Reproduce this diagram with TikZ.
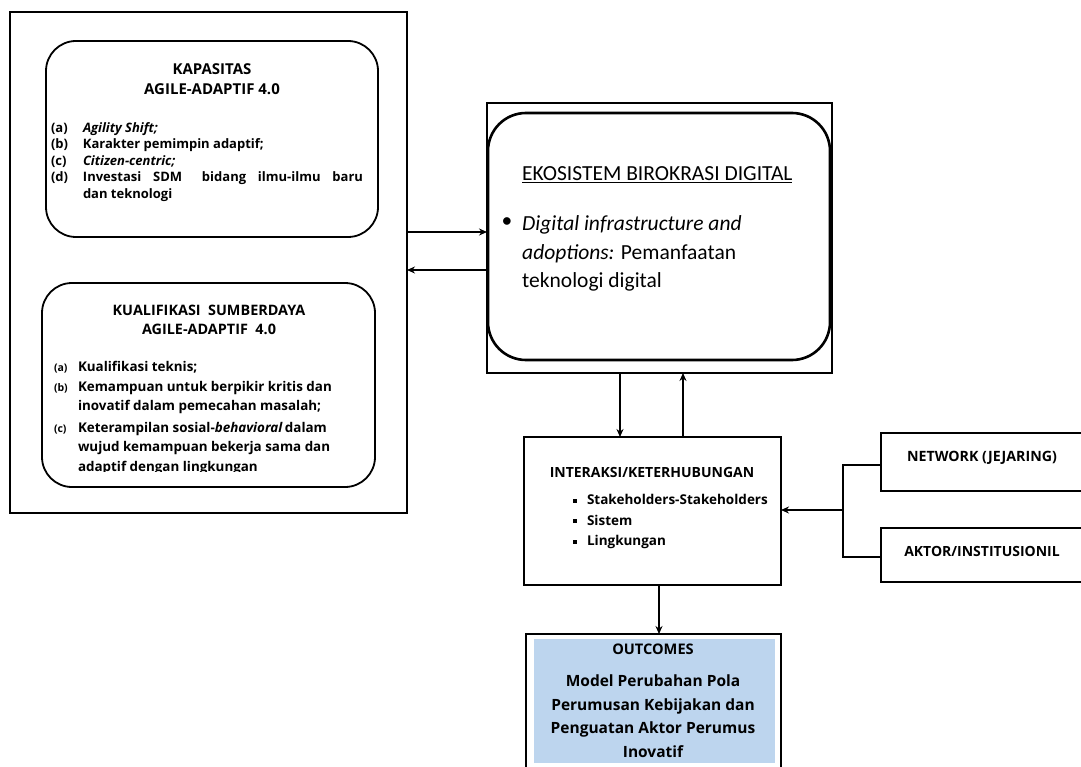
\documentclass[tikz,border=0pt]{standalone}
\usepackage{fontspec}
\setmainfont{Open Sans}
\newfontfamily\calib{Carlito}
\usetikzlibrary{arrows.meta}
\definecolor{outblue}{HTML}{BDD5EE}
\newcommand{\fsz}[2]{\fontsize{#1}{#2}\selectfont}
\newcommand{\sqb}{\raisebox{2.4pt}{\rule{4pt}{4pt}}}
\begin{document}
\begin{tikzpicture}[x=1pt,y=-1pt,
  box/.style={draw,line width=1.8pt,inner sep=0pt,outer sep=0pt},
  rbox/.style={box,rounded corners=30pt},
  arr/.style={line width=2pt,-{Stealth[length=8pt,width=7pt]}},
  conn/.style={line width=2.4pt},
  txt/.style={inner sep=0pt,outer sep=0pt,font=\bfseries},
]
\useasboundingbox (0,0) rectangle (1081,767);
% shapes
\node[box,minimum width=397,minimum height=501] (left) at (208.5,262.5) {};
\node[rbox,minimum width=332,minimum height=196] (kap) at (212,139) {};
\node[rbox,minimum width=333,minimum height=204] (kual) at (208.5,385) {};
\node[box,minimum width=345,minimum height=270] (ekoO) at (659.5,238) {};
\node[box,line width=2.6pt,rounded corners=38pt,minimum width=342,minimum height=247] (ekoI) at (659,236.5) {};
\node[box,minimum width=257,minimum height=148] (inter) at (652.5,511) {};
\node[box,minimum width=209,minimum height=58] (net) at (985.5,462) {};
\node[box,minimum width=209,minimum height=54] (akt) at (985.5,555) {};
\node[box,minimum width=255,minimum height=146] (outc) at (653.5,707) {};
\fill[outblue] (534,639) rectangle (775,763);
% texts
\node[txt,align=center,font=\bfseries\fsz{15}{20}] (kapT) at (212,79) {KAPASITAS\\AGILE-ADAPTIF 4.0};
\node[txt,anchor=north west,font=\bfseries\fsz{13}{16.6}] (kapL) at (51,120.4) {%
\begin{tabular}{@{}p{22pt}@{\hspace{10pt}}l@{}}
(a) & \textit{Agility Shift;}\\
(b) & Karakter pemimpin adaptif;\\
(c) & \textit{Citizen-centric;}\\
(d) & \makebox[280pt][s]{Investasi SDM\hspace{8pt} bidang\ ilmu-ilmu\ baru}\\
    & dan teknologi
\end{tabular}};
\node[txt,align=center,font=\bfseries\fsz{14.4}{19}] (kualT) at (209,320) {KUALIFIKASI\ \ SUMBERDAYA\\AGILE-ADAPTIF\ \ 4.0};
\begin{scope}
\clip (40,340) rectangle (380,471.5);
\node[txt,anchor=north west,font=\bfseries\fsz{13.4}{19.5}] (kualL) at (54,358.3) {%
\begin{tabular}{@{}p{16pt}@{\hspace{8pt}}l@{}}
{\fsz{10.5}{19.5}(a)} & Kualifikasi teknis;\\
{\fsz{10.5}{19.5}(b)} & Kemampuan untuk berpikir kritis dan\\
    & inovatif dalam pemecahan masalah;\\[2pt]
{\fsz{10.5}{19.5}(c)} & Keterampilan sosial-\textit{behavioral}\,dalam\\
    & wujud kemampuan bekerja sama dan\\
    & adaptif dengan lingkungan
\end{tabular}};
\end{scope}
\node[inner sep=0pt,anchor=west,font=\calib\fsz{21.5}{26}] (ekoT) at (522,175) {\underline{EKOSISTEM BIROKRASI DIGITAL}};
\node[inner sep=0pt,font=\calib\fsz{21.5}{26}] (ekoB) at (507,223) {\textbullet};
\node[inner sep=0pt,anchor=north west,align=left,font=\calib\fsz{21.5}{28.5}] (ekoX) at (522,215.5) {\textit{Digital infrastructure and}\\\textit{adoptions:} Pemanfaatan\\teknologi digital};
\node[txt,font=\bfseries\fsz{14}{16}] (interT) at (652,472) {INTERAKSI/KETERHUBUNGAN};
\node[txt,anchor=north west,font=\bfseries\fsz{13.5}{20.5}] (interL) at (573,490.6) {%
\begin{tabular}{@{}l@{\hspace{10pt}}l@{}}
\sqb & Stakeholders-Stakeholders\\
\sqb & Sistem\\
\sqb & Lingkungan
\end{tabular}};
\node[txt,font=\bfseries\fsz{14.2}{16}] (netT) at (982,458) {NETWORK (JEJARING)};
\node[txt,font=\bfseries\fsz{14}{16}] (aktT) at (982,551) {AKTOR/INSTITUSIONIL};
\node[txt,font=\bfseries\fsz{14.6}{16}] (outT) at (653,649) {OUTCOMES};
\node[txt,align=center,font=\bfseries\fsz{15.5}{23.5}] (outX) at (653,716) {Model Perubahan Pola\\Perumusan Kebijakan dan\\Penguatan Aktor Perumus\\Inovatif};
% connectors
\coordinate (brk) at (843,510);
\draw[arr] (left.east |- 0,232) -- (ekoO.west |- 0,232);
\draw[arr] (ekoO.west |- 0,270) -- (left.east |- 0,270);
\draw[arr] (ekoO.south -| 620,0) -- (inter.north -| 620,0);
\draw[arr] (inter.north -| 683,0) -- (ekoO.south -| 683,0);
\draw[conn] (net.west |- 0,465) -| (brk) |- (akt.west |- 0,557);
\draw[arr] (brk) -- (inter.east |- brk);
\draw[arr] (inter.south -| 659,0) -- (outc.north -| 659,0);
\end{tikzpicture}
\end{document}
